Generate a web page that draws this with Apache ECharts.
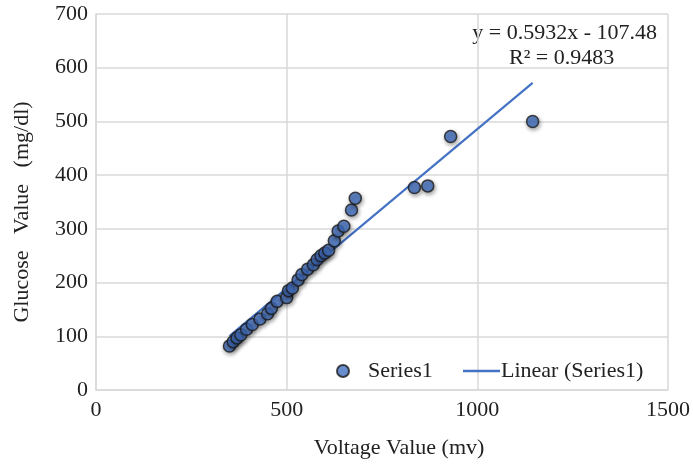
<!DOCTYPE html>
<html>
<head>
<meta charset="utf-8">
<script src="https://cdn.jsdelivr.net/npm/echarts@6/dist/echarts.min.js"></script>
<style>html,body{margin:0;padding:0;background:#fff;}#c{width:693px;height:466px;}</style>
</head>
<body>
<div id="c"></div>
<script>
var voltage = [350, 360, 370, 380, 395, 410, 430, 450, 460, 475, 500, 505, 515, 530, 540, 555, 570, 580, 590, 600, 610, 625, 635, 650, 670, 680, 835, 870, 930, 1145];
var glucose = [82, 90, 97, 103, 113, 122, 132, 142, 152, 165, 172, 185, 190, 205, 215, 225, 233, 243, 250, 255, 260, 278, 296, 305, 335, 357, 377, 380, 472, 500];
var slope = 0.5932;
var intercept = -107.48;
var rSquared = 0.9483;
var xTicks = [0, 500, 1000, 1500];
var yTicks = [0, 100, 200, 300, 400, 500, 600, 700];

var pts = voltage.map(function (v, i) { return [v, glucose[i]]; });
var xmin = Math.min.apply(null, voltage), xmax = Math.max.apply(null, voltage);
var trend = [[xmin, slope * xmin + intercept], [xmax, slope * xmax + intercept]];

var font = 'Liberation Serif';
var fs = 22;
var tc = '#222';
var chart = echarts.init(document.getElementById('c'));
chart.setOption({
  animation: false,
  grid: {left: 96, right: 23, top: 14, bottom: 76},
  xAxis: {
    type: 'value', min: xTicks[0], max: xTicks[xTicks.length - 1], interval: 500,
    name: 'Voltage Value (mv)', nameLocation: 'middle', nameGap: 47,
    nameTextStyle: {fontFamily: font, fontSize: fs, color: tc, padding: [0, 0, 0, 34]},
    axisLine: {show: true, lineStyle: {color: '#d9d9d9', width: 1.5}},
    axisTick: {show: false},
    axisLabel: {fontFamily: font, fontSize: fs, color: tc, margin: 9, formatter: function (v) { return String(v); }},
    splitLine: {show: true, lineStyle: {color: '#d9d9d9', width: 1.5}}
  },
  yAxis: {
    type: 'value', min: yTicks[0], max: yTicks[yTicks.length - 1], interval: 100,
    name: 'Glucose   Value   (mg/dl)', nameLocation: 'middle', nameGap: 63,
    nameTextStyle: {fontFamily: font, fontSize: fs, color: tc, padding: [0, 20, 0, 0]},
    axisLine: {show: true, lineStyle: {color: '#d9d9d9', width: 1.5}},
    axisTick: {show: false},
    axisLabel: {fontFamily: font, fontSize: fs, color: tc, margin: 8},
    splitLine: {show: true, lineStyle: {color: '#d9d9d9', width: 1.5}}
  },
  legend: [
    {data: ['Series1'], left: 331, top: 355, itemWidth: 12, itemHeight: 12, itemGap: 10,
     textStyle: {fontFamily: font, fontSize: fs, color: tc, padding: [0, 0, 0, 14]}},
    {data: [{name: 'Linear (Series1)', icon: 'rect'}], left: 458, top: 355, itemWidth: 37, itemHeight: 2.5, itemGap: 2,
     textStyle: {fontFamily: font, fontSize: fs, color: tc, padding: [0, 0, 0, -4]}}
  ],
  graphic: [
    {type: 'text', right: 36, top: 22, style: {text: 'y = 0.5932x - 107.48', font: fs + 'px "Liberation Serif"', fill: tc}},
    {type: 'text', left: 509, top: 47, style: {text: 'R\u00b2 = ' + rSquared.toFixed(4), font: fs + 'px "Liberation Serif"', fill: tc}}
  ],
  series: [
    {name: 'Linear (Series1)', type: 'line', data: trend, symbol: 'none', z: 2,
     lineStyle: {color: '#4472C4', width: 2.2}, itemStyle: {color: '#4472C4'}},
    {name: 'Series1', type: 'scatter', data: pts, symbolSize: 12, z: 3,
     itemStyle: {color: '#4472C4', borderColor: '#1a1a1a', borderWidth: 1.5,
                 shadowBlur: 4, shadowColor: 'rgba(0,0,0,0.45)', shadowOffsetX: 1, shadowOffsetY: 2}}
  ]
});
</script>
</body>
</html>
